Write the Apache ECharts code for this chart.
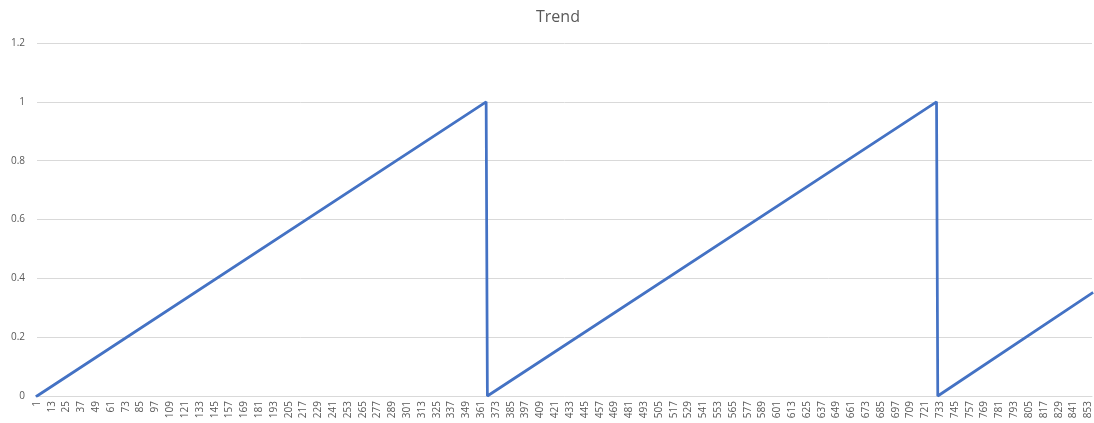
<!DOCTYPE html>
<html>
<head>
<meta charset="utf-8">
<script src="https://cdn.jsdelivr.net/npm/echarts@6/dist/echarts.min.js"></script>
<style>
  html, body { margin: 0; padding: 0; background: #fff; }
  #chart { width: 1094px; height: 423px; }
</style>
</head>
<body>
<div id="chart"></div>
<script>
// Day index labels 1..856 along the x axis
const dayCount = 856;
const categories = [];
for (let d = 1; d <= dayCount; d++) categories.push(String(d));

// Corner points of the yearly ramp: [day, value]
const trendPoints = [
  ["1", 0],
  ["365", 1],
  ["366", 0],
  ["730", 1],
  ["731", 0],
  ["856", 0.35]
];

const yTicks = [0, 0.2, 0.4, 0.6, 0.8, 1, 1.2];

const chart = echarts.init(document.getElementById('chart'), null, { renderer: 'canvas' });
chart.setOption({
  animation: false,
  title: {
    text: 'Trend',
    left: 531,
    top: 4,
    textStyle: { fontFamily: 'Open Sans', fontSize: 16, fontWeight: 'normal', color: '#595959' }
  },
  grid: { left: 37, right: 2, top: 43, bottom: 27, containLabel: false },
  xAxis: {
    type: 'category',
    data: categories,
    boundaryGap: false,
    axisLine: { lineStyle: { color: '#d9d9d9', width: 1 } },
    axisTick: { show: false },
    axisLabel: {
      interval: 11,
      rotate: 90,
      fontFamily: 'Open Sans',
      fontSize: 10,
      color: '#595959',
      margin: 5
    },
    splitLine: { show: false }
  },
  yAxis: {
    type: 'value',
    min: 0,
    max: yTicks[yTicks.length - 1],
    interval: 0.2,
    axisLine: { show: false },
    axisTick: { show: false },
    axisLabel: {
      fontFamily: 'Open Sans',
      fontSize: 10,
      color: '#595959',
      margin: 12,
      formatter: v => String(Math.round(v * 10) / 10)
    },
    splitLine: { lineStyle: { color: '#d9d9d9', width: 1 } }
  },
  series: [{
    type: 'line',
    data: trendPoints,
    showSymbol: false,
    symbol: 'none',
    lineStyle: { color: '#4472C4', width: 2.75, cap: 'square' },
    itemStyle: { color: '#4472C4' }
  }]
});
</script>
</body>
</html>
